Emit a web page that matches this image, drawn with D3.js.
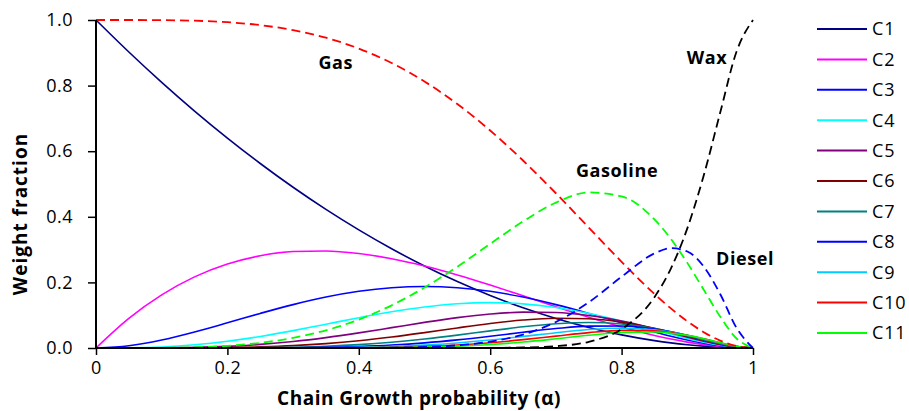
<!DOCTYPE html>
<html><head><meta charset="utf-8">
<script src="https://cdn.jsdelivr.net/npm/d3@7"></script>
<style>body{margin:0;background:#fff}</style></head>
<body><svg id="c" width="909" height="411"></svg>
<script>
const alpha = [0,.05,.1,.15,.2,.25,.3,.35,.4,.45,.5,.55,.6,.65,.7,.75,.8,.85,.875,.9,.925,.95,.975,1];
const C1 = [1,.9025,.81,.7225,.64,.5625,.49,.4225,.36,.3025,.25,.2025,.16,.1225,.09,.0625,.04,.0225,.0156,.01,.0056,.0025,.0006,0];
const C2 = [0,.0903,.162,.2168,.256,.2813,.294,.2958,.288,.2723,.25,.2228,.192,.1593,.126,.0938,.064,.0383,.0273,.018,.0104,.0048,.0012,0];
const C3 = [0,.0068,.0243,.0488,.0768,.1055,.1323,.1553,.1728,.1838,.1875,.1838,.1728,.1553,.1323,.1055,.0768,.0488,.0359,.0243,.0144,.0068,.0018,0];
const C4 = [0,.0005,.0032,.0098,.0205,.0352,.0529,.0725,.0922,.1103,.125,.1348,.1382,.1346,.1235,.1055,.0819,.0553,.0419,.0292,.0178,.0086,.0023,0];
const C5 = [0,0,.0004,.0018,.0051,.011,.0198,.0317,.0461,.062,.0781,.0927,.1037,.1093,.1081,.0989,.0819,.0587,.0458,.0328,.0206,.0102,.0028,0];
const C6 = [0,0,0,.0003,.0012,.0033,.0071,.0133,.0221,.0335,.0469,.0612,.0746,.0853,.0908,.089,.0786,.0599,.0481,.0354,.0229,.0116,.0033,0];
const C7 = [0,0,0,.0001,.0003,.001,.0025,.0054,.0103,.0176,.0273,.0392,.0523,.0647,.0741,.0779,.0734,.0594,.0491,.0372,.0247,.0129,.0038,0];
const C8 = [0,0,0,0,.0001,.0003,.0009,.0022,.0047,.009,.0156,.0247,.0358,.048,.0593,.0667,.0671,.0577,.0491,.0383,.0261,.014,.0042,0];
const C9 = [0,0,0,0,0,.0001,.0003,.0009,.0021,.0046,.0088,.0153,.0242,.0351,.0467,.0563,.0604,.0552,.0483,.0387,.0271,.0149,.0046,0];
const C10 = [0,0,0,0,0,0,.0001,.0003,.0009,.0023,.0049,.0093,.0161,.0254,.0363,.0469,.0537,.0521,.047,.0387,.0279,.0158,.005,0];
const C11 = [0,0,0,0,0,0,0,.0001,.0004,.0011,.0027,.0056,.0106,.0181,.028,.0387,.0472,.0487,.0452,.0384,.0284,.0165,.0053,0];
const Gas = [1,1,.9995,.9978,.9933,.9844,.9692,.946,.913,.8688,.8125,.7438,.663,.5716,.4718,.3672,.2627,.1648,.1207,.0815,.0483,.0226,.0059,0];
const Gasoline = [0,0,.0005,.0022,.0067,.0156,.0308,.0539,.0867,.1301,.1843,.2479,.3174,.386,.4432,.4744,.4624,.3918,.3326,.2595,.1776,.0958,.029,0];
const Diesel = [0,0,0,0,0,0,0,0,.0003,.0011,.0032,.0082,.0193,.041,.0794,.1394,.2172,.2884,.3045,.2943,.2484,.1647,.0611,0];
const Wax = [0,0,0,0,0,0,0,0,0,0,0,.0001,.0003,.0015,.0056,.019,.0576,.155,.2422,.3647,.5258,.717,.904,1];

const seriesNames = ["C1","C2","C3","C4","C5","C6","C7","C8","C9","C10","C11"];
const seriesValues = [C1,C2,C3,C4,C5,C6,C7,C8,C9,C10,C11];
const seriesColors = ["#000080","#ff00ff","#0000ff","#00ffff","#800080","#800000","#008080","#0000ff","#00ccff","#ff0000","#00ff00"];
const groupNames = ["Gas","Gasoline","Diesel","Wax"];
const groupValues = [Gas,Gasoline,Diesel,Wax];
const groupColors = ["#ff0000","#00ff00","#0000ff","#000000"];
const groupLabelAt = [[0.365,0.87],[0.793,0.54],[0.988,0.271],[0.93,0.884]];
const xTicks = [0,0.2,0.4,0.6,0.8,1];
const yTicks = [0,0.2,0.4,0.6,0.8,1.0];

const svg = d3.select("#c");
const FONT = "'Open Sans', sans-serif";
const x = d3.scaleLinear().domain([0,1]).range([96,753]);
const y = d3.scaleLinear().domain([0,1]).range([348,20]);

const line = vals => d3.line().x((d,i)=>x(alpha[i])).y(d=>y(d)).curve(d3.curveMonotoneX)(vals);

seriesValues.forEach((vals,i)=>{
  svg.append("path").attr("d",line(vals)).attr("fill","none")
    .attr("stroke",seriesColors[i]).attr("stroke-width",1.6);
});
groupValues.forEach((vals,i)=>{
  svg.append("path").attr("d",line(vals)).attr("fill","none")
    .attr("stroke",groupColors[i]).attr("stroke-width",1.8).attr("stroke-dasharray","9,5");
});

// axes
const xa = svg.append("g").attr("transform",`translate(0,${y(0)})`)
  .call(d3.axisBottom(x).tickValues(xTicks).tickSize(7).tickPadding(6).tickFormat(d=>d===0?"0":d===1?"1":d3.format(".1f")(d)));
const ya = svg.append("g").attr("transform",`translate(${x(0)},0)`)
  .call(d3.axisLeft(y).tickValues(yTicks).tickSize(8).tickPadding(15).tickFormat(d3.format(".1f")));
[xa,ya].forEach(a=>{
  a.select(".domain").attr("stroke","#000").attr("stroke-width",2);
  a.selectAll(".tick line").attr("stroke","#000").attr("stroke-width",1.5);
  a.selectAll(".tick text").attr("font-family",FONT).attr("font-size",18).attr("letter-spacing","0.5px").attr("fill","#000");
});
xa.select(".domain").attr("d",`M${x(0)},0H${x(1)}`);
ya.select(".domain").attr("d",`M0,${y(0)}V${y(1)}`);

svg.append("text").attr("x",419).attr("y",405).attr("text-anchor","middle")
  .attr("font-family",FONT).attr("font-size",19).attr("letter-spacing","0.5px").attr("font-weight","bold").text("Chain Growth probability (α)");
svg.append("text").attr("transform","translate(27,214) rotate(-90)").attr("text-anchor","middle")
  .attr("font-family",FONT).attr("font-size",19).attr("letter-spacing","1px").attr("font-weight","bold").text("Weight fraction");

groupNames.forEach((n,i)=>{
  svg.append("text").attr("x",x(groupLabelAt[i][0])).attr("y",y(groupLabelAt[i][1])).attr("dy","0.35em")
    .attr("text-anchor","middle").attr("font-family",FONT).attr("font-size",18).attr("letter-spacing","0.6px").attr("font-weight","bold").text(n);
});

// legend
const lg = svg.append("g");
seriesNames.forEach((n,i)=>{
  const yy = 29 + i*30.4;
  lg.append("line").attr("x1",817).attr("x2",867).attr("y1",yy).attr("y2",yy)
    .attr("stroke",seriesColors[i]).attr("stroke-width",2);
  lg.append("text").attr("x",872).attr("y",yy).attr("dy","0.36em")
    .attr("font-family",FONT).attr("font-size",18).attr("letter-spacing","0.8px").text(n);
});
</script></body></html>
